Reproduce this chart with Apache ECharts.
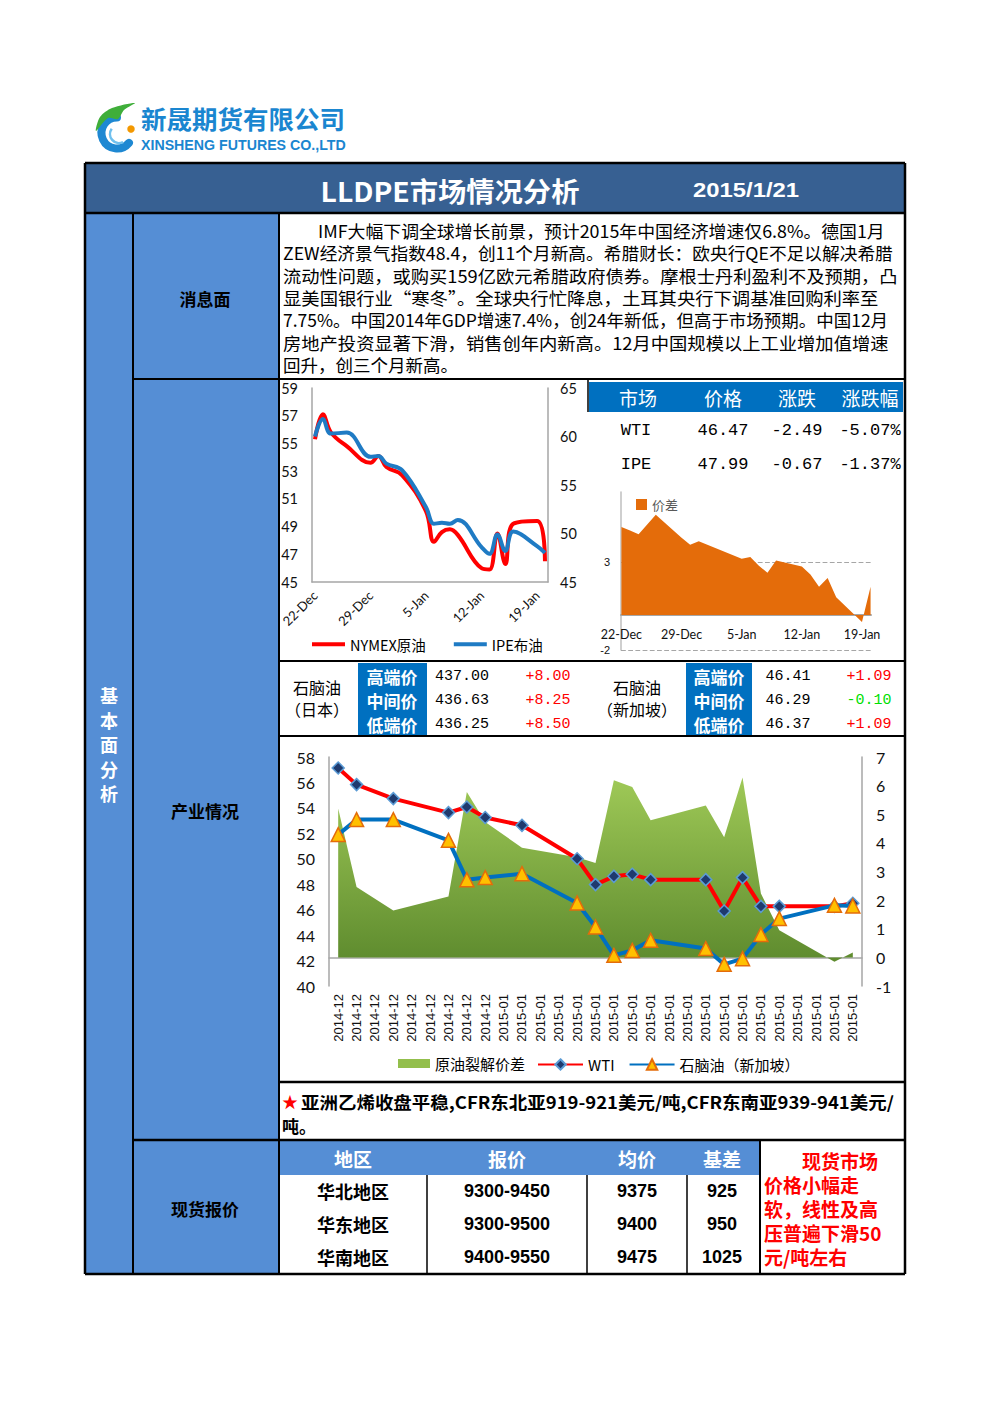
<!DOCTYPE html>
<html><head><meta charset="utf-8">
<script src="https://cdn.jsdelivr.net/npm/echarts@6/dist/echarts.min.js"></script>
<style>html,body{margin:0;padding:0;background:#fff}#c{width:992px;height:1403px}</style>
</head><body><div id="c"></div>
<script>
// ---------------- DATA ----------------
const oilDates = ['2014-12-22','2014-12-23','2014-12-24','2014-12-26','2014-12-29','2014-12-30','2014-12-31','2015-01-02','2015-01-05','2015-01-06','2015-01-07','2015-01-08','2015-01-09','2015-01-12','2015-01-13','2015-01-14','2015-01-15','2015-01-16','2015-01-19','2015-01-20'];
const nymexPrices = [55.3, 57.1, 55.8, 54.8, 53.6, 54.1, 53.3, 52.7, 50.1, 47.9, 48.6, 48.8, 48.4, 46.0, 45.9, 48.5, 46.3, 49.2, 49.4, 46.5];
const ipePrices   = [60.0, 61.8, 60.3, 60.4, 57.9, 58.0, 57.2, 56.5, 52.7, 51.0, 51.1, 51.0, 51.4, 48.6, 47.9, 49.9, 48.2, 50.2, 48.7, 48.0];
const oilTickDates = ['2014-12-22','2014-12-29','2015-01-05','2015-01-12','2015-01-19'];
const spreadValues = [5.0, 4.8, 4.6, 5.7, 4.4, 4.0, 4.2, 3.8, 3.2, 3.3, 2.8, 2.4, 3.1, 2.75, 2.3, 1.6, 2.1, 1.0, -0.4, 1.6];
const spreadTicks = [-2, 3];

const marketHeaders = ['市场','价格','涨跌','涨跌幅'];
const marketRows = [['WTI','46.47','-2.49','-5.07%'],['IPE','47.99','-0.67','-1.37%']];

const naphthaLevels = ['高端价','中间价','低端价'];
const naphthaJapan = ['437.00','436.63','436.25'];
const naphthaJapanChg = ['+8.00','+8.25','+8.50'];
const naphthaSing = ['46.41','46.29','46.37'];
const naphthaSingChg = ['+1.09','-0.10','+1.09'];

const monthCats = ['2014-12','2014-12','2014-12','2014-12','2014-12','2014-12','2014-12','2014-12','2014-12',
  '2015-01','2015-01','2015-01','2015-01','2015-01','2015-01','2015-01','2015-01','2015-01','2015-01',
  '2015-01','2015-01','2015-01','2015-01','2015-01','2015-01','2015-01','2015-01','2015-01','2015-01'];
const crackSpread = [5.2, 2.46, null, 1.64, null, null, 2.13, 5.78, 4.73, null, 3.83, null, null, 3.5, 3.3, 6.19, 5.95, 4.79, null, null, 5.31, 4.2, 6.28, 2.23, 0.95, null, null, -0.15, 0.17];
const wtiPrices = [57.14, 55.83, null, 54.73, null, null, 53.63, 54.07, 53.24, null, 52.63, null, null, 50.0, 47.97, 48.62, 48.78, 48.36, null, null, 48.36, 45.9, 48.52, 46.26, 46.26, null, null, 46.26, 46.5];
const naphthaSgPrices = [51.9, 53.08, null, 53.08, null, null, 51.45, 48.36, 48.52, null, 48.83, null, null, 46.52, 44.64, 42.41, 42.8, 43.59, null, null, 42.94, 41.7, 42.15, 44.04, 45.3, null, null, 46.34, 46.29];

const spotHeaders = ['地区','报价','均价','基差'];
const spotRegions = ['华北地区','华东地区','华南地区'];
const spotQuotes = ['9300-9450','9300-9500','9400-9550'];
const spotAvg = ['9375','9400','9475'];
const spotBasis = ['925','950','1025'];

const newsLines = [
 'IMF大幅下调全球增长前景，预计2015年中国经济增速仅6.8%。德国1月',
 'ZEW经济景气指数48.4，创11个月新高。希腊财长：欧央行QE不足以解决希腊',
 '流动性问题，或购买159亿欧元希腊政府债券。摩根士丹利盈利不及预期，凸',
 '显美国银行业“寒冬”。全球央行忙降息，土耳其央行下调基准回购利率至',
 '7.75%。中国2014年GDP增速7.4%，创24年新低，但高于市场预期。中国12月',
 '房地产投资显著下滑，销售创年内新高。12月中国规模以上工业增加值增速',
 '回升，创三个月新高。'
];
const spotComment = ['　　现货市场','价格小幅走','软，线性及高','压普遍下滑50','元/吨左右'];

// ---------------- HELPERS ----------------
const CJK = '"Noto Sans CJK SC", "Noto Sans", sans-serif';
const MONO = '"Liberation Mono", "DejaVu Sans Mono", monospace';
const ARIAL = '"Liberation Sans", Arial, sans-serif';
const LATO = 'Lato, "Open Sans", sans-serif';
const DAY = 86400000;
const MON = ['Jan','Feb','Mar','Apr','May','Jun','Jul','Aug','Sep','Oct','Nov','Dec'];
const fmtDay = v => { const d = new Date(v); return d.getUTCDate() + '-' + MON[d.getUTCMonth()]; };
const mctx = document.createElement('canvas').getContext('2d');
function measure(t, font){ mctx.font = font; return mctx.measureText(t).width; }

const G = [];
function rect(x,y,w,h,fill){ G.push({type:'rect', z:0, shape:{x:x,y:y,width:w,height:h}, style:{fill:fill}}); }
function line(x1,y1,x2,y2,c,lw){ G.push({type:'line', z:5, shape:{x1:x1,y1:y1,x2:x2,y2:y2}, style:{stroke:c||'#000', lineWidth:lw||1.5}}); }
function text(t,x,y,o){
  o = o || {};
  const font = (o.bold?'bold ':'') + (o.size||16) + 'px ' + (o.family||CJK);
  let sx = 1;
  if (o.w) { sx = o.w / measure(t, font); sx = Math.max(0.7, Math.min(1.3, sx)); }
  G.push({type:'text', z:10, x:x, y:y, scaleX:sx,
    style:{text:t, x:0, y:0, fill:o.color||'#000', font:font, align:o.align||'left', verticalAlign:'middle'}});
}

// ---------------- LOGO ----------------
G.push({type:'arc', z:3, shape:{cx:117, cy:133, r:15.5, startAngle:Math.PI*0.22, endAngle:Math.PI*1.5, clockwise:true},
  style:{stroke:'#1e88d2', lineWidth:8, fill:'none', lineCap:'round'}});
G.push({type:'arc', z:4, shape:{cx:119, cy:134, r:9, startAngle:Math.PI*0.35, endAngle:Math.PI*1.2, clockwise:true},
  style:{stroke:'#6fc0ee', lineWidth:2.5, fill:'none'}});
G.push({type:'polygon', z:5, shape:{points:[[96,131],[100,117],[112,108],[135,103],[124,110],[118,119],[108,118]], smooth:0.3}, style:{fill:'#3fae3a'}});
G.push({type:'circle', z:6, shape:{cx:131, cy:129, r:4.5}, style:{fill:'#f39800', stroke:'#fff', lineWidth:1.5}});
text('新晟期货有限公司', 141, 118, {bold:true, size:25, color:'#1a86d0', w:204});
text('XINSHENG FUTURES CO.,LTD', 141, 145, {bold:true, size:15, color:'#1a86d0', family:ARIAL, w:205});

// ---------------- FRAME & FILLS ----------------
rect(85,163,820,50,'#376092');
rect(85,213,48,1061,'#558ed5');
rect(133,213,146,1061,'#558ed5');
rect(589,382,314,30,'#0070c0');
rect(358,663,69,73,'#0070c0');
rect(686,663,66,73,'#0070c0');
rect(279,1141,480,34,'#558ed5');

line(85,163,905,163,'#000',2.5);
line(85,1274,905,1274,'#000',2.5);
line(85,163,85,1274,'#000',2.5);
line(905,163,905,1274,'#000',2.5);
line(85,213,905,213,'#000',2.5);
line(133,213,133,1274,'#000',2);
line(279,213,279,1274,'#000',2);
line(133,379,905,379,'#000',2);
line(279,661,905,661,'#000',2);
line(279,736,905,736,'#000',2);
line(279,1082,905,1082,'#000',2.5);
line(133,1140,905,1140,'#000',2.5);
line(588,380,588,412,'#000',1.5);
line(427,1175,427,1274,'#000',1.5);
line(587,1175,587,1274,'#000',1.5);
line(687,1175,687,1274,'#000',1.5);
line(760,1140,760,1274,'#000',2);

// ---------------- TEXTS ----------------
text('LLDPE市场情况分析', 450, 190, {bold:true, size:27, color:'#fff', align:'center', w:259});
text('2015/1/21', 746, 190, {bold:true, size:21, color:'#fff', family:ARIAL, align:'center', w:106});
'基本面分析'.split('').forEach((ch,i)=>text(ch, 109, 695 + i*24.5, {bold:true, size:18, color:'#fff', align:'center'}));
text('消息面', 205, 298, {bold:true, size:17, align:'center'});
text('产业情况', 205, 810, {bold:true, size:17, align:'center'});
text('现货报价', 205, 1208, {bold:true, size:17, align:'center'});

const newsX = [318,283,283,283,283,283,283];
const newsEnd = [885,893,898,888,888,889,null];
newsLines.forEach((t,i)=>text(t, newsX[i], 230 + i*22.35, {size:17.5, w: newsEnd[i] ? newsEnd[i]-newsX[i] : null}));

// market table
const mhX = [638,723,797,870];
marketHeaders.forEach((t,i)=>text(t, mhX[i], 397, {size:19, color:'#fff', align:'center'}));
marketRows.forEach((r,ri)=>r.forEach((t,ci)=>text(t, mhX[ci]-(ci===0?2:0), 430 + ri*34.5, {size:17, family:MONO, align:'center'})));

// naphtha rows
text('石脑油', 317, 687, {size:16, align:'center'});
text('（日本）', 317, 709, {size:16, align:'center'});
text('石脑油', 637, 687, {size:16, align:'center'});
text('（新加坡）', 637, 709, {size:16, align:'center'});
naphthaLevels.forEach((t,i)=>{
  const y = 676 + i*24;
  text(t, 392, y, {bold:true, size:17, color:'#fff', align:'center'});
  text(t, 719, y, {bold:true, size:17, color:'#fff', align:'center'});
  text(naphthaJapan[i], 462, y, {size:15, family:MONO, align:'center'});
  text(naphthaJapanChg[i], 548, y, {size:15, family:MONO, align:'center', color: naphthaJapanChg[i][0]==='-'?'#00e000':'#ff0000'});
  text(naphthaSing[i], 788, y, {size:15, family:MONO, align:'center'});
  text(naphthaSingChg[i], 869, y, {size:15, family:MONO, align:'center', color: naphthaSingChg[i][0]==='-'?'#00e000':'#ff0000'});
});

// ethylene note
text('★', 282, 1101, {size:16, color:'#ff0000'});
text('亚洲乙烯收盘平稳,CFR东北亚919-921美元/吨,CFR东南亚939-941美元/', 301, 1101, {bold:true, size:17, w:593});
text('吨。', 282, 1125, {bold:true, size:17});

// spot table
const spX = [353,507,637,722];
spotHeaders.forEach((t,i)=>text(t, spX[i], 1158, {bold:true, size:19, color:'#fff', align:'center'}));
spotRegions.forEach((t,i)=>{
  const y = 1191 + i*33;
  text(t, spX[0], y, {bold:true, size:18, align:'center'});
  text(spotQuotes[i], spX[1], y, {bold:true, size:18, family:ARIAL, align:'center'});
  text(spotAvg[i], spX[2], y, {bold:true, size:18, family:ARIAL, align:'center'});
  text(spotBasis[i], spX[3], y, {bold:true, size:18, family:ARIAL, align:'center'});
});
spotComment.forEach((t,i)=>text(t, 764, 1160 + i*24.2, {bold:true, size:19, color:'#ff0000'}));

// ---------------- CHART ----------------
const t0 = Date.parse(oilDates[0]), tN = Date.parse(oilDates[oilDates.length-1]);
const oilTicks = oilTickDates.map(d=>Date.parse(d));
const gray = '#a6a6a6';
const axLbl = (size, margin, extra) => Object.assign({fontSize:size, color:'#111', margin:margin, fontFamily:LATO}, extra||{});

const chart = echarts.init(document.getElementById('c'), null, {renderer:'svg', width:992, height:1403});
chart.setOption({
  animation:false,
  backgroundColor:'#fff',
  textStyle:{fontFamily:CJK},
  grid:[
    {left:312, top:388, width:236, height:194, outerBoundsMode:'none'},
    {left:621, top:492, width:250, height:158, outerBoundsMode:'none'},
    {left:329, top:757, width:533, height:229, outerBoundsMode:'none'}
  ],
  xAxis:[
    {gridIndex:0, type:'value', min:t0-0.38*DAY, max:tN+0.38*DAY,
     axisLine:{show:true, lineStyle:{color:gray, width:1.5}}, axisTick:{show:false}, splitLine:{show:false},
     axisLabel:axLbl(13, 11, {customValues:oilTicks, formatter:fmtDay, rotate:45})},
    {gridIndex:1, type:'value', min:t0-0.05*DAY, max:tN+0.05*DAY,
     axisLine:{show:true, onZero:true, lineStyle:{color:gray, width:2}}, axisTick:{show:false}, splitLine:{show:false},
     axisLabel:axLbl(12.5, -22, {customValues:oilTicks, formatter:fmtDay})},
    {gridIndex:2, type:'category', data:monthCats, boundaryGap:true,
     axisLine:{show:true, lineStyle:{color:gray, width:1.5}}, axisTick:{show:false},
     axisLabel:axLbl(13, 8, {interval:0, rotate:90, fontFamily:ARIAL})}
  ],
  yAxis:[
    {gridIndex:0, type:'value', position:'left', min:45, max:59, interval:2,
     axisLine:{show:true, lineStyle:{color:gray, width:1.5}}, axisTick:{show:false}, splitLine:{show:false},
     axisLabel:axLbl(14.5, 14)},
    {gridIndex:0, type:'value', position:'right', min:45, max:65, interval:5,
     axisLine:{show:true, lineStyle:{color:gray, width:1.5}}, axisTick:{show:false}, splitLine:{show:false},
     axisLabel:axLbl(14.5, 12)},
    {gridIndex:1, type:'value', position:'left', min:-2, max:7,
     axisLine:{show:true, lineStyle:{color:'#bfbfbf', width:1.5}}, axisTick:{show:false}, splitLine:{show:false},
     axisLabel:axLbl(11, 11, {customValues:spreadTicks, fontFamily:ARIAL})},
    {gridIndex:2, type:'value', position:'left', min:40, max:58, interval:2,
     axisLine:{show:true, lineStyle:{color:gray, width:1.5}}, axisTick:{show:false}, splitLine:{show:false},
     axisLabel:axLbl(16, 14)},
    {gridIndex:2, type:'value', position:'right', min:-1, max:7, interval:1,
     axisLine:{show:true, lineStyle:{color:gray, width:1.5}}, axisTick:{show:false}, splitLine:{show:false},
     axisLabel:axLbl(16, 14)}
  ],
  legend:[
    {data:['NYMEX原油','IPE布油'], left:312, top:637, padding:0, itemGap:28, itemWidth:33, itemHeight:4, icon:'rect',
     textStyle:{fontSize:14.5, color:'#000', fontFamily:CJK}},
    {data:['价差'], left:636, top:498, padding:0, itemWidth:11, itemHeight:11, icon:'rect',
     textStyle:{fontSize:13, color:'#595959', fontFamily:CJK}},
    {data:['原油裂解价差'], left:398, top:1056, padding:0, itemWidth:32, itemHeight:9, icon:'rect',
     textStyle:{fontSize:15, color:'#000', fontFamily:CJK}},
    {data:['WTI','石脑油（新加坡）'], left:537, top:1057, padding:0, itemGap:14, itemWidth:45, itemHeight:13,
     textStyle:{fontSize:15, color:'#000', fontFamily:CJK}}
  ],
  series:[
    {name:'NYMEX原油', type:'line', xAxisIndex:0, yAxisIndex:0, smooth:0.4, symbol:'none',
     data:oilDates.map((d,i)=>[Date.parse(d), nymexPrices[i]]),
     lineStyle:{color:'#ff0000', width:4}, itemStyle:{color:'#ff0000'}},
    {name:'IPE布油', type:'line', xAxisIndex:0, yAxisIndex:1, smooth:0.4, symbol:'none',
     data:oilDates.map((d,i)=>[Date.parse(d), ipePrices[i]]),
     lineStyle:{color:'#1f7bc4', width:4}, itemStyle:{color:'#1f7bc4'}},
    {name:'价差', type:'line', xAxisIndex:1, yAxisIndex:2, symbol:'none', z:3,
     data:oilDates.map((d,i)=>[Date.parse(d), spreadValues[i]]),
     lineStyle:{width:0, color:'#e46c0a'}, itemStyle:{color:'#e46c0a'}, areaStyle:{color:'#e46c0a', opacity:1},
     markLine:{silent:true, z:1, symbol:['none','none'], label:{show:false},
       lineStyle:{type:'dashed', color:'#a6a6a6', width:1.2}, data:spreadTicks.map(v=>({yAxis:v}))}},
    {name:'原油裂解价差', type:'line', xAxisIndex:2, yAxisIndex:4, connectNulls:true, symbol:'none', z:1,
     data:crackSpread, lineStyle:{width:0, color:'#8db648'}, itemStyle:{color:'#93bf4c'},
     areaStyle:{opacity:1, color:new echarts.graphic.LinearGradient(0,0,0,1,[{offset:0,color:'#9fc957'},{offset:1,color:'#5e8b2e'}])}},
    {name:'WTI', type:'line', xAxisIndex:2, yAxisIndex:3, connectNulls:true, z:3,
     symbol:'diamond', symbolSize:12, showSymbol:true, showAllSymbol:true, data:wtiPrices,
     lineStyle:{color:'#ff0000', width:4}, itemStyle:{color:'#1f3a6e', borderColor:'#5b9bd5', borderWidth:1.5}},
    {name:'石脑油（新加坡）', type:'line', xAxisIndex:2, yAxisIndex:3, connectNulls:true, z:4,
     symbol:'triangle', symbolSize:14, showSymbol:true, showAllSymbol:true, data:naphthaSgPrices,
     lineStyle:{color:'#0070c0', width:4}, itemStyle:{color:'#ffc000', borderColor:'#e46c0a', borderWidth:1.5}}
  ],
  graphic:{elements:G}
});
</script></body></html>
